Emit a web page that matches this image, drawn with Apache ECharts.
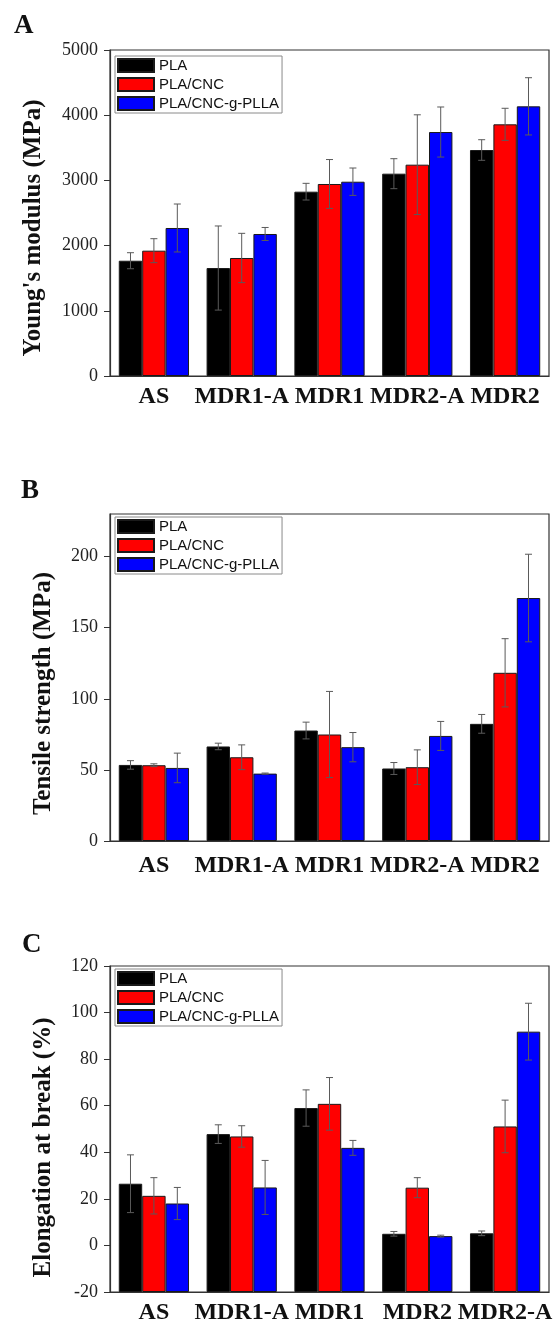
<!DOCTYPE html>
<html>
<head>
<meta charset="utf-8">
<script src="https://cdn.jsdelivr.net/npm/echarts@6/dist/echarts.min.js"></script>
<style>
html,body{margin:0;padding:0;background:#fff;}
#chart{width:558px;height:1325px;}
</style>
</head>
<body>
<div id="chart"></div>
<script>
// ---- data ----
const seriesNames = ['PLA', 'PLA/CNC', 'PLA/CNC-g-PLLA'];
const categoriesAB = ['AS', 'MDR1-A', 'MDR1', 'MDR2-A', 'MDR2'];
const categoriesC = ['AS', 'MDR1-A', 'MDR1', 'MDR2', 'MDR2-A'];

// A: Young's modulus (MPa)
const modulusPLA = [1768, 1656, 2827, 3103, 3466];
const modulusPLAErr = [123, 645, 128, 230, 158];
const modulusCNC = [1922, 1810, 2945, 3241, 3860];
const modulusCNCErr = [184, 378, 375, 765, 246];
const modulusPLLA = [2270, 2178, 2980, 3742, 4136];
const modulusPLLAErr = [368, 100, 210, 384, 439];

// B: Tensile strength (MPa)
const strengthPLA = [53.5, 66.5, 77.7, 51.0, 82.4];
const strengthPLAErr = [3.0, 2.3, 5.9, 4.2, 6.6];
const strengthCNC = [53.3, 58.9, 74.9, 51.9, 118.3];
const strengthCNCErr = [1.0, 8.7, 30.3, 12.2, 24.0];
const strengthPLLA = [51.4, 47.4, 66.0, 73.9, 170.9];
const strengthPLLAErr = [10.4, 0.4, 10.3, 10.2, 30.8];

// C: Elongation at break (%)
const elongPLA = [26.5, 47.8, 59.0, 5.0, 5.2];
const elongPLAErr = [12.4, 4.0, 7.8, 1.0, 1.0];
const elongCNC = [21.3, 46.8, 60.8, 24.8, 51.1];
const elongCNCErr = [7.8, 4.6, 11.3, 4.3, 11.3];
const elongPLLA = [18.0, 24.9, 41.9, 4.0, 91.8];
const elongPLLAErr = [6.9, 11.6, 3.2, 0.4, 12.2];

const panelLetters = ['A', 'B', 'C'];
const yTitles = ["Young's modulus (MPa)", 'Tensile strength (MPa)', 'Elongation at break (%)'];

// ---- styling ----
const colors = ['#000000', '#ff0000', '#0000ff'];
const SERIF = '"Liberation Serif", "Times New Roman", serif';
const SANS = '"Liberation Sans", Arial, sans-serif';
const AXIS_COLOR = '#333';

const panels = [
  { cats: categoriesAB, vals: [modulusPLA, modulusCNC, modulusPLLA], errs: [modulusPLAErr, modulusCNCErr, modulusPLLAErr],
    grid: { left: 110, top: 50, width: 439, height: 326 }, min: 0, max: 5000, interval: 1000, start: 0,
    xMargin: 9, nameGap: 64, namePad: 30, legendTop: 56, showMax: true },
  { cats: categoriesAB, vals: [strengthPLA, strengthCNC, strengthPLLA], errs: [strengthPLAErr, strengthCNCErr, strengthPLLAErr],
    grid: { left: 110, top: 514, width: 439, height: 327 }, min: 0, max: 230, interval: 50, start: 0,
    xMargin: 13, nameGap: 54, namePad: 32, legendTop: 517, showMax: false },
  { cats: categoriesC, vals: [elongPLA, elongCNC, elongPLLA], errs: [elongPLAErr, elongCNCErr, elongPLLAErr],
    grid: { left: 110, top: 966, width: 439, height: 326 }, min: -20, max: 120, interval: 20, start: -20,
    xMargin: 9, nameGap: 54, namePad: 37, legendTop: 969, showMax: true }
];

function makeErrRender(slot) {
  return function (params, api) {
    const ci = api.value(0), v = api.value(1), e = api.value(2);
    const band = api.size([1, 0])[0];
    const bw = band * 0.8 / 3;
    const cx = api.coord([ci, v])[0] + (slot - 1) * bw;
    const yTop = api.coord([ci, v + e])[1];
    const yBot = api.coord([ci, v - e])[1];
    const cap = 3.5;
    const st = { stroke: '#5a5a5a', lineWidth: 1 };
    return {
      type: 'group',
      children: [
        { type: 'line', shape: { x1: cx, y1: yTop, x2: cx, y2: yBot }, style: st },
        { type: 'line', shape: { x1: cx - cap, y1: yTop, x2: cx + cap, y2: yTop }, style: st },
        { type: 'line', shape: { x1: cx - cap, y1: yBot, x2: cx + cap, y2: yBot }, style: st }
      ]
    };
  };
}

const option = {
  backgroundColor: '#ffffff',
  animation: false,
  title: [],
  legend: [],
  grid: [],
  xAxis: [],
  yAxis: [],
  series: []
};

const letterPos = [{ left: 14, top: 13 }, { left: 21, top: 478 }, { left: 22, top: 932 }];

panels.forEach((p, gi) => {
  option.title.push({
    text: panelLetters[gi], left: letterPos[gi].left, top: letterPos[gi].top, padding: 0,
    textStyle: { fontFamily: SERIF, fontWeight: 'bold', fontSize: 27, color: '#111' }
  });
  option.grid.push(Object.assign({ show: true, borderColor: AXIS_COLOR, borderWidth: 1.2, backgroundColor: 'transparent' }, p.grid));
  option.legend.push({
    data: seriesNames, orient: 'vertical', left: 115, top: p.legendTop,
    itemWidth: 36, itemHeight: 13, itemGap: 4, padding: [2, 3, 2, 2],
    borderColor: '#8a8a8a', borderWidth: 1, backgroundColor: '#fff',
    icon: 'rect',
    textStyle: { fontFamily: SANS, fontSize: 15, color: '#111', padding: [0, 0, 0, 0] },
    selectedMode: false
  });
  option.xAxis.push({
    type: 'category', gridIndex: gi, data: p.cats,
    axisLine: { onZero: false, lineStyle: { color: AXIS_COLOR, width: 1.2 } },
    axisTick: { alignWithLabel: true, length: 5, lineStyle: { color: AXIS_COLOR } },
    axisLabel: { interval: 0, margin: p.xMargin, fontFamily: SERIF, fontWeight: 'bold', fontSize: 24, color: '#111' },
    splitLine: { show: false }
  });
  option.yAxis.push({
    type: 'value', gridIndex: gi, min: p.min, max: p.max, interval: p.interval, startValue: p.start,
    name: yTitles[gi], nameLocation: 'middle', nameGap: p.nameGap,
    nameTextStyle: { fontFamily: SERIF, fontWeight: 'bold', fontSize: 25, color: '#111', padding: [0, p.namePad, 0, 0] },
    axisLine: { show: true, lineStyle: { color: AXIS_COLOR, width: 1.2 } },
    axisTick: { show: true, length: 6, lineStyle: { color: AXIS_COLOR } },
    axisLabel: { margin: 12, fontFamily: SERIF, fontSize: 18, color: '#222', showMaxLabel: p.showMax,
      formatter: function (v) { return String(v); } },
    splitLine: { show: false }
  });
  seriesNames.forEach((nm, si) => {
    option.series.push({
      type: 'bar', name: nm, xAxisIndex: gi, yAxisIndex: gi,
      data: p.vals[si],
      barGap: '0%', barCategoryGap: '20%',
      itemStyle: { color: colors[si], borderColor: '#1a1a1a', borderWidth: 1 },
      z: 2
    });
  });
  seriesNames.forEach((nm, si) => {
    option.series.push({
      type: 'custom', name: nm + ' error', xAxisIndex: gi, yAxisIndex: gi,
      data: p.vals[si].map((v, i) => [i, v, p.errs[si][i]]),
      renderItem: makeErrRender(si),
      encode: { x: 0, y: [1, 2] },
      z: 5, silent: true
    });
  });
});

const chart = echarts.init(document.getElementById('chart'), null, { renderer: 'canvas' });
chart.setOption(option);
</script>
</body>
</html>
